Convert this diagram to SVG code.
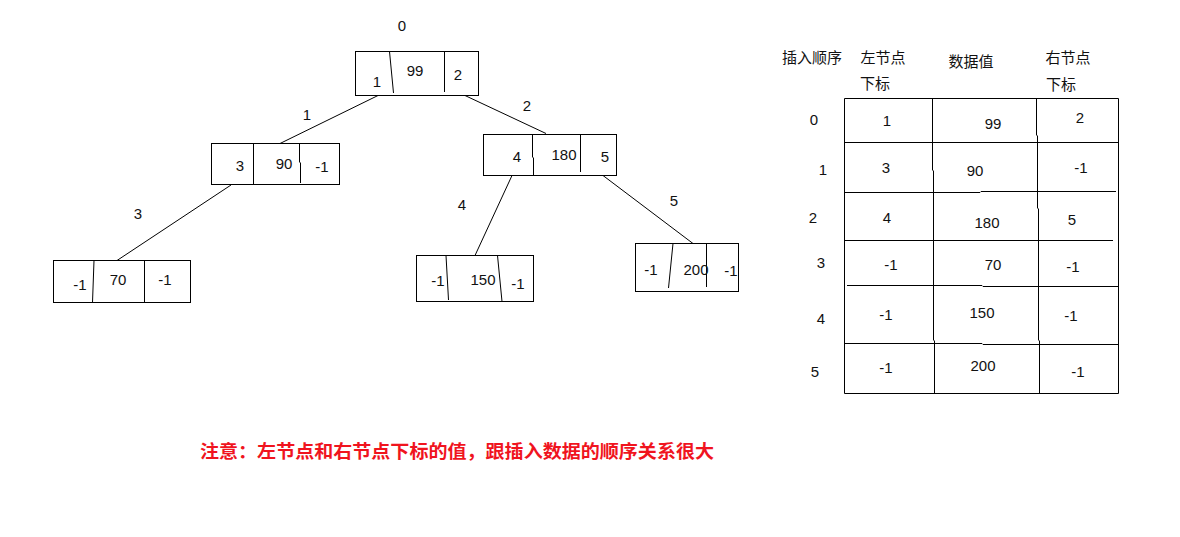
<svg xmlns="http://www.w3.org/2000/svg" width="1180" height="537" viewBox="0 0 1180 537">
  <style>
    .box { fill: #ffffff; stroke: #000000; stroke-width: 1; }
    .ln { fill: none; stroke: #000000; stroke-width: 1; }
    .num { font-family: "Liberation Sans", "Noto Sans CJK SC", sans-serif; font-size: 15px; fill: #111111; text-anchor: middle; }
    .cjk { font-family: "Noto Sans CJK SC", "Liberation Sans", sans-serif; font-size: 15px; fill: #111111; text-anchor: middle; }
    .note { font-family: "Noto Sans CJK SC", sans-serif; font-size: 18px; font-weight: bold; fill: #f0141e; }
  </style>
  <rect width="1180" height="537" fill="#ffffff"/>

  <!-- tree edges with their index labels -->
  <g id="connectors">
    <line class="ln" x1="378" y1="95.5" x2="280" y2="143.5"/>
    <line class="ln" x1="465" y1="95.5" x2="546" y2="133.5"/>
    <line class="ln" x1="231" y1="185" x2="117" y2="260.5"/>
    <line class="ln" x1="512" y1="175.5" x2="475" y2="255.5"/>
    <line class="ln" x1="603" y1="175.5" x2="693" y2="243.5"/>
    <text class="num" x="307" y="120">1</text>
    <text class="num" x="527" y="111">2</text>
    <text class="num" x="138" y="219">3</text>
    <text class="num" x="462" y="210">4</text>
    <text class="num" x="674" y="206">5</text>
  </g>

  <!-- root node, index 0 -->
  <g id="node-0">
    <text class="num" x="402" y="31">0</text>
    <rect class="box" x="355.5" y="51.5" width="123" height="44"/>
    <line class="ln" x1="389.5" y1="51.5" x2="393.5" y2="93"/>
    <line class="ln" x1="444.5" y1="51.5" x2="444.5" y2="92"/>
    <text class="num" x="377" y="87">1</text>
    <text class="num" x="415" y="76">99</text>
    <text class="num" x="458" y="80">2</text>
  </g>

  <g id="node-1">
    <rect class="box" x="211.5" y="143.5" width="128" height="41"/>
    <line class="ln" x1="253.5" y1="143.5" x2="253.5" y2="184.5"/>
    <polyline class="ln" points="299.5,143.5 299.5,162 300.5,163 300.5,183"/>
    <text class="num" x="240" y="171">3</text>
    <text class="num" x="284" y="169">90</text>
    <text class="num" x="322" y="172">-1</text>
  </g>

  <g id="node-2">
    <rect class="box" x="483.5" y="134.5" width="133" height="41"/>
    <polyline class="ln" points="532.5,134.5 532.5,157 533.5,158 533.5,175.5"/>
    <line class="ln" x1="580.5" y1="134.5" x2="580.5" y2="172"/>
    <text class="num" x="517" y="162">4</text>
    <text class="num" x="564" y="160">180</text>
    <text class="num" x="605" y="162">5</text>
  </g>

  <g id="node-3">
    <rect class="box" x="53.5" y="260.5" width="137" height="42"/>
    <line class="ln" x1="94" y1="260.5" x2="92.5" y2="302.5"/>
    <line class="ln" x1="144.5" y1="260.5" x2="144.5" y2="302"/>
    <text class="num" x="80" y="290">-1</text>
    <text class="num" x="118" y="285">70</text>
    <text class="num" x="165" y="285">-1</text>
  </g>

  <g id="node-4">
    <rect class="box" x="416.5" y="255.5" width="117" height="46"/>
    <line class="ln" x1="446" y1="255.5" x2="448.5" y2="300"/>
    <line class="ln" x1="497.5" y1="255.5" x2="502" y2="301.5"/>
    <text class="num" x="438" y="286">-1</text>
    <text class="num" x="483" y="285">150</text>
    <text class="num" x="518" y="289">-1</text>
  </g>

  <g id="node-5">
    <rect class="box" x="635.5" y="243.5" width="103" height="48"/>
    <line class="ln" x1="673" y1="243.5" x2="668.5" y2="288"/>
    <line class="ln" x1="706.5" y1="243.5" x2="706.5" y2="287"/>
    <text class="num" x="651" y="275">-1</text>
    <text class="num" x="696" y="275">200</text>
    <text class="num" x="731" y="276">-1</text>
  </g>

  <!-- array view of the tree -->
  <g id="table">
    <text class="cjk" x="812" y="63">插入顺序</text>
    <text class="cjk" x="883" y="63">左节点</text>
    <text class="cjk" x="875" y="89">下标</text>
    <text class="cjk" x="971" y="67">数据值</text>
    <text class="cjk" x="1068" y="63">右节点</text>
    <text class="cjk" x="1061" y="90">下标</text>

    <line class="ln" x1="844.5" y1="98.5" x2="1118.5" y2="98.5"/>
    <line class="ln" x1="844.5" y1="98.5" x2="844.5" y2="393.5"/>
    <line class="ln" x1="1118.5" y1="98.5" x2="1118.5" y2="393.5"/>
    <line class="ln" x1="844.5" y1="393.5" x2="1118.5" y2="393.5"/>
    <polyline class="ln" points="932.5,98.5 932.5,170 933.5,171 933.5,340 934.5,341 934.5,393.5"/>
    <polyline class="ln" points="1036.5,98.5 1036.5,135 1037.5,136 1037.5,208 1038.5,209 1038.5,340 1039.5,341 1039.5,393.5"/>
    <line class="ln" x1="844.5" y1="142.5" x2="1118.5" y2="142.5"/>
    <polyline class="ln" points="844.5,192.5 980,192.5 981,191.5 1116,191.5"/>
    <line class="ln" x1="844.5" y1="240.5" x2="1113" y2="240.5"/>
    <polyline class="ln" points="847,285.5 982,285.5 983,286.5 1118.5,286.5"/>
    <polyline class="ln" points="844.5,343.5 982,343.5 983,344.5 1118.5,344.5"/>

    <text class="num" x="814" y="125">0</text>
    <text class="num" x="823" y="175">1</text>
    <text class="num" x="813" y="223">2</text>
    <text class="num" x="821" y="268">3</text>
    <text class="num" x="821" y="324">4</text>
    <text class="num" x="815" y="377">5</text>

    <text class="num" x="887" y="126">1</text>
    <text class="num" x="886" y="173">3</text>
    <text class="num" x="887" y="223">4</text>
    <text class="num" x="891" y="270">-1</text>
    <text class="num" x="886" y="320">-1</text>
    <text class="num" x="886" y="373">-1</text>

    <text class="num" x="993" y="129">99</text>
    <text class="num" x="975" y="176">90</text>
    <text class="num" x="987" y="228">180</text>
    <text class="num" x="993" y="270">70</text>
    <text class="num" x="982" y="318">150</text>
    <text class="num" x="983" y="371">200</text>

    <text class="num" x="1080" y="123">2</text>
    <text class="num" x="1081" y="173">-1</text>
    <text class="num" x="1072" y="225">5</text>
    <text class="num" x="1073" y="272">-1</text>
    <text class="num" x="1071" y="321">-1</text>
    <text class="num" x="1078" y="377">-1</text>
  </g>

  <g id="note">
    <text class="note" x="200" y="458" textLength="514" lengthAdjust="spacingAndGlyphs">注意：左节点和右节点下标的值，跟插入数据的顺序关系很大</text>
  </g>
</svg>
